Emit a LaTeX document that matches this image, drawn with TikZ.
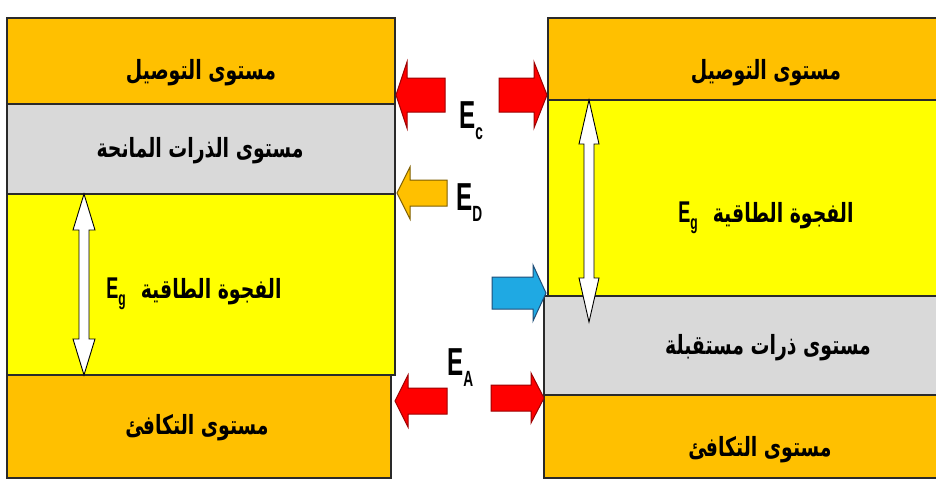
\documentclass[tikz,border=0pt]{standalone}
\usepackage{fontspec}
\TeXXeTstate=1
\newfontfamily\arabicfont[Script=Arabic]{DejaVu Sans}
\newfontfamily\latinfont{Liberation Sans}
\definecolor{bandgold}{HTML}{FFC000}
\definecolor{bandyellow}{HTML}{FFFF00}
\definecolor{bandgrey}{HTML}{D9D9D9}
\definecolor{bandline}{HTML}{2A2A2A}
\definecolor{arrred}{HTML}{FF0000}
\definecolor{arrrededge}{HTML}{9E0000}
\definecolor{arrgold}{HTML}{FFC000}
\definecolor{arrgoldedge}{HTML}{7F5F00}
\definecolor{arrblue}{HTML}{1FA9E3}
\definecolor{arrblueedge}{HTML}{1F4E79}
\newcommand{\Elab}[1]{\scalebox{0.62}[1]{\latinfont\bfseries\fontsize{39}{39}\selectfont E\raisebox{-11pt}{\fontsize{22}{22}\selectfont #1}}}
\newcommand{\Eglab}{\scalebox{0.6}[1]{\latinfont\bfseries\fontsize{30}{30}\selectfont E\raisebox{-7pt}{\fontsize{20}{20}\selectfont g}}}
\newcommand{\artx}[1]{\scalebox{0.82}[1.15]{\beginR #1\endR}}
\begin{document}
\begin{tikzpicture}[x=1pt,y=-1pt,
  band/.style={draw=bandline, line width=1.8pt, anchor=north west, inner sep=0pt, outer sep=0pt},
  artext/.style={font=\arabicfont\bfseries\fontsize{23}{26}\selectfont, text=black, inner sep=0pt},
  elabel/.style={anchor=base west, inner sep=0pt},
  gaparrow/.style={fill=white, draw=black, line width=0.9pt, line join=miter},
  redarrow/.style={fill=arrred, draw=arrrededge, line width=1pt, line join=miter},
  goldarrow/.style={fill=arrgold, draw=arrgoldedge, line width=1pt, line join=miter},
  bluearrow/.style={fill=arrblue, draw=arrblueedge, line width=1pt, line join=miter}]
\useasboundingbox (0,0) rectangle (936,499);
\clip (0,0) rectangle (936,499);
\fill[white] (0,0) rectangle (936,499);
% left panel (n-type)
\node[band, fill=bandgold,   minimum width=388pt, minimum height=86pt]  (lc) at (7,18) {};
\node[band, fill=bandgrey,   minimum width=388pt, minimum height=90pt]  (ld) at (7,104) {};
\node[band, fill=bandyellow, minimum width=388pt, minimum height=181pt] (lg) at (7,194) {};
\node[band, fill=bandgold,   minimum width=384pt, minimum height=103pt] (lv) at (7,375) {};
% right panel (p-type)
\node[band, fill=bandgold,   minimum width=440pt, minimum height=82pt]  (rc) at (548,18) {};
\node[band, fill=bandyellow, minimum width=440pt, minimum height=196pt] (rg) at (548,100) {};
\node[band, fill=bandgrey,   minimum width=444pt, minimum height=99pt]  (ra) at (544,296) {};
\node[band, fill=bandgold,   minimum width=444pt, minimum height=83pt]  (rv) at (544,395) {};
% band texts
\node[artext] (t1) at (201,73)  {\artx{مستوى التوصيل}};
\node[artext] (t2) at (200,151) {\artx{مستوى الذرات المانحة}};
\node[artext] (t3) at (194,294) {\Eglab\hspace{15pt}\artx{الفجوة الطاقية}};
\node[artext] (t4) at (197,428) {\artx{مستوى التكافئ}};
\node[artext] (t5) at (766,73)  {\artx{مستوى التوصيل}};
\node[artext] (t6) at (766,218) {\Eglab\hspace{15pt}\artx{الفجوة الطاقية}};
\node[artext] (t7) at (768,348) {\artx{مستوى ذرات مستقبلة}};
\node[artext] (t8) at (760,450) {\artx{مستوى التكافئ}};
% energy gap double arrows
\draw[gaparrow] (84,194) -- (95,230) -- (89,230) -- (89,339) -- (95,339) -- (84,375)
  -- (73,339) -- (79,339) -- (79,230) -- (73,230) -- cycle;
\draw[gaparrow] (589,100) -- (599,144) -- (594,144) -- (594,278) -- (599,278) -- (589,322)
  -- (579,278) -- (584,278) -- (584,144) -- (579,144) -- cycle;
% block arrows
\draw[redarrow]  (396,95) -- (407,62) -- (407,78) -- (445,78) -- (445,112) -- (407,112) -- (407,128) -- cycle;
\draw[redarrow]  (547,95) -- (534,62) -- (534,78) -- (499,78) -- (499,112) -- (534,112) -- (534,128) -- cycle;
\draw[goldarrow] (397,193) -- (410,167) -- (410,180) -- (447,180) -- (447,206) -- (410,206) -- (410,219) -- cycle;
\draw[bluearrow] (546,293) -- (533,265) -- (533,277) -- (492,277) -- (492,309) -- (533,309) -- (533,321) -- cycle;
\draw[redarrow]  (395,401) -- (408,375) -- (408,388) -- (447,388) -- (447,414) -- (408,414) -- (408,427) -- cycle;
\draw[redarrow]  (544,398) -- (531,373) -- (531,385) -- (491,385) -- (491,411) -- (531,411) -- (531,423) -- cycle;
% energy labels
\node[elabel] (ec) at (459,128) {\Elab{c}};
\node[elabel] (ed) at (456,210) {\Elab{D}};
\node[elabel] (ea) at (447,375) {\Elab{A}};
\end{tikzpicture}
\end{document}
